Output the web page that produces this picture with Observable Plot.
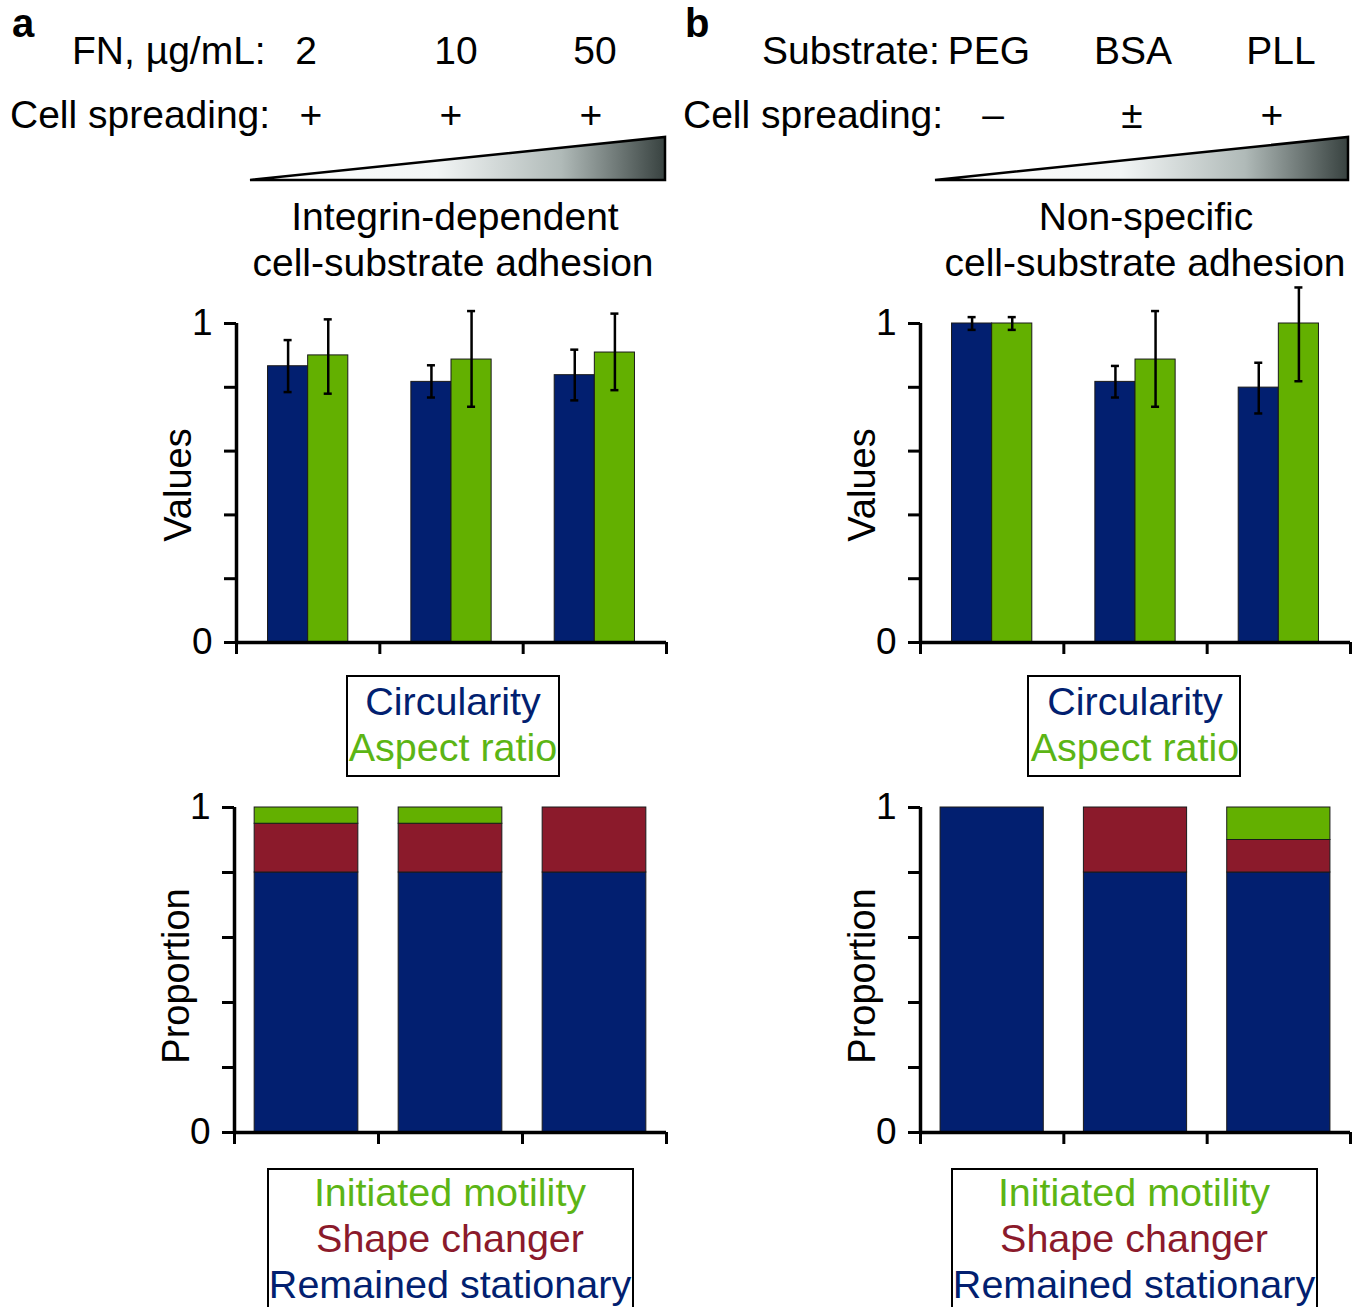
<!DOCTYPE html>
<html><head><meta charset="utf-8">
<script src="https://cdn.jsdelivr.net/npm/d3@7"></script>
<script src="https://cdn.jsdelivr.net/npm/@observablehq/plot@0.6"></script>
<style>
body{margin:0;background:#fff;}
#root{position:relative;width:1361px;height:1307px;overflow:hidden;font-family:"Liberation Sans",Arial,sans-serif;}
#root > svg, #root > figure{position:absolute;margin:0;}
</style></head><body><div id="root"></div>
<script>
// ---- data ----
const catsA = ["2", "10", "50"];
const spreadA = ["+", "+", "+"];
const catsB = ["PEG", "BSA", "PLL"];
const spreadB = ["–", "±", "+"];
const circularityA = [0.866, 0.817, 0.838];
const circularityUpA = [0.082, 0.052, 0.08];
const circularityDownA = [0.081, 0.049, 0.079];
const aspectA = [0.90, 0.887, 0.909];
const aspectUpA = [0.113, 0.152, 0.122];
const aspectDownA = [0.12, 0.148, 0.118];
const circularityB = [1.0, 0.817, 0.799];
const circularityUpB = [0.02, 0.05, 0.078];
const circularityDownB = [0.02, 0.049, 0.081];
const aspectB = [1.0, 0.887, 1.0];
const aspectUpB = [0.02, 0.152, 0.113];
const aspectDownB = [0.02, 0.148, 0.181];
const stationaryA = [0.8, 0.8, 0.8];
const shapeA = [0.15, 0.15, 0.2];
const motileA = [0.05, 0.05, 0];
const stationaryB = [1.0, 0.8, 0.8];
const shapeB = [0, 0.2, 0.1];
const motileB = [0, 0, 0.1];
const yTicks = [0, 0.2, 0.4, 0.6, 0.8, 1];
const valueSeries = ["Circularity", "Aspect ratio"];
const propSeries = ["Initiated motility", "Shape changer", "Remained stationary"];

const NAVY = "#021f70", GREEN = "#63b000", RED = "#8b1a2b";
const FONT = "'Liberation Sans', Arial, sans-serif";
const root = document.getElementById("root");

function place(el, left, top) {
  el.style.position = "absolute";
  el.style.left = left + "px";
  el.style.top = top + "px";
  root.appendChild(el);
}

function valuesPlot(cats, circ, circUp, circDown, asp, aspUp, aspDown, ml, mr) {
  const rows = [];
  cats.forEach((c, i) => {
    rows.push({i, series: valueSeries[0], v: circ[i], up: circUp[i], down: circDown[i], side: -1});
    rows.push({i, series: valueSeries[1], v: asp[i], up: aspUp[i], down: aspDown[i], side: 1});
  });
  const bw = 0.28;
  const x1 = d => d.side < 0 ? d.i + 0.5 - bw : d.i + 0.5;
  const x2 = d => d.side < 0 ? d.i + 0.5 : d.i + 0.5 + bw;
  const cx = d => d.i + 0.5 + d.side * bw / 2;
  const cap = 0.028;
  return Plot.plot({
    width: 681, height: 409, marginLeft: ml, marginRight: mr, marginTop: 60, marginBottom: 30,
    style: {background: "transparent", fontFamily: FONT, overflow: "visible", color: "#000"},
    x: {domain: [0, 3]},
    y: {domain: [0, 1]},
    color: {domain: valueSeries, range: [NAVY, GREEN]},
    marks: [
      Plot.rectY(rows, {x1, x2, y1: 0, y2: "v", fill: "series", stroke: "#1a1a1a", strokeWidth: 1}),
      Plot.ruleX(rows, {x: cx, y1: d => d.v - d.down, y2: d => d.v + d.up, strokeWidth: 2.5}),
      Plot.ruleY(rows, {y: d => d.v + d.up, x1: d => cx(d) - cap, x2: d => cx(d) + cap, strokeWidth: 2.5}),
      Plot.ruleY(rows, {y: d => d.v - d.down, x1: d => cx(d) - cap, x2: d => cx(d) + cap, strokeWidth: 2.5}),
      Plot.axisY({ticks: yTicks, tickSize: 12, tickPadding: 12, tickFormat: d => (d === 0 || d === 1) ? String(d) : "", fontSize: 37, strokeWidth: 3, label: null}),
      Plot.axisX({ticks: [0, 1, 2, 3], tickSize: 12, tickFormat: () => "", strokeWidth: 3, label: null}),
      Plot.ruleX([0], {y1: 0, y2: 1, strokeWidth: 3.5}),
      Plot.ruleY([0], {strokeWidth: 3.5}),
      Plot.text(["Values"], {text: d => d, frameAnchor: "left", textAnchor: "middle", dx: -58, dy: 2, rotate: -90, fontSize: 38})
    ]
  });
}

function proportionPlot(stat, shape, mot, ml, mr) {
  const rows = [];
  stat.forEach((s, i) => {
    const parts = [[propSeries[2], s], [propSeries[1], shape[i]], [propSeries[0], mot[i]]];
    let acc = 0;
    for (const [k, v] of parts) {
      if (v > 0) rows.push({i, k, y1: acc, y2: acc + v});
      acc += v;
    }
  });
  return Plot.plot({
    width: 681, height: 382, marginLeft: ml, marginRight: mr, marginTop: 27, marginBottom: 30,
    style: {background: "transparent", fontFamily: FONT, overflow: "visible", color: "#000"},
    x: {domain: [0, 3]},
    y: {domain: [0, 1]},
    color: {domain: propSeries, range: [GREEN, RED, NAVY]},
    marks: [
      Plot.rectY(rows, {x1: d => d.i + 0.14, x2: d => d.i + 0.86, y1: "y1", y2: "y2", fill: "k", stroke: "#1a1a1a", strokeWidth: 1}),
      Plot.axisY({ticks: yTicks, tickSize: 12, tickPadding: 12, tickFormat: d => (d === 0 || d === 1) ? String(d) : "", fontSize: 37, strokeWidth: 3, label: null}),
      Plot.axisX({ticks: [0, 1, 2, 3], tickSize: 12, tickFormat: () => "", strokeWidth: 3, label: null}),
      Plot.ruleX([0], {y1: 0, y2: 1, strokeWidth: 3.5}),
      Plot.ruleY([0], {strokeWidth: 3.5}),
      Plot.text(["Proportion"], {text: d => d, frameAnchor: "left", textAnchor: "middle", dx: -58, dy: 6, rotate: -90, fontSize: 38})
    ]
  });
}

place(valuesPlot(catsA, circularityA, circularityUpA, circularityDownA, aspectA, aspectUpA, aspectDownA, 236, 15), 0, 263);
place(valuesPlot(catsB, circularityB, circularityUpB, circularityDownB, aspectB, aspectUpB, aspectDownB, 240, 11), 680, 263);
place(proportionPlot(stationaryA, shapeA, motileA, 234, 15), 0, 780);
place(proportionPlot(stationaryB, shapeB, motileB, 240, 11), 680, 780);

// ---- overlay: headers, gradient wedges, legends ----
const NS = "http://www.w3.org/2000/svg";
const ov = document.createElementNS(NS, "svg");
ov.setAttribute("width", 1361); ov.setAttribute("height", 1307);
ov.style.fontFamily = FONT;
place(ov, 0, 0);
function el(tag, attrs, text) {
  const e = document.createElementNS(NS, tag);
  for (const k in attrs) e.setAttribute(k, attrs[k]);
  if (text != null) e.textContent = text;
  ov.appendChild(e);
  return e;
}
function txt(x, y, s, opts = {}) {
  return el("text", Object.assign({x, y, "font-size": 39, "text-anchor": "middle", fill: "#000"}, opts), s);
}
// gradient
const defs = el("defs", {});
const lg = document.createElementNS(NS, "linearGradient");
lg.setAttribute("id", "wedge"); lg.setAttribute("x1", "0"); lg.setAttribute("x2", "1");
[["0", "#ffffff"], ["0.45", "#f2f5f5"], ["0.75", "#b0bab8"], ["1", "#384240"]].forEach(([o, c]) => {
  const s = document.createElementNS(NS, "stop");
  s.setAttribute("offset", o); s.setAttribute("stop-color", c); lg.appendChild(s);
});
defs.appendChild(lg);

// panel a
txt(12, 37, "a", {"text-anchor": "start", "font-weight": "bold", "font-size": 40});
txt(72, 64, "FN, µg/mL:", {"text-anchor": "start"});
[306, 456, 595].forEach((x, i) => txt(x, 64, catsA[i]));
txt(10, 128, "Cell spreading:", {"text-anchor": "start"});
[311, 451, 591].forEach((x, i) => txt(x, 128, spreadA[i]));
el("polygon", {points: "250,180 665,137 665,180", fill: "url(#wedge)", stroke: "#000", "stroke-width": 2.5});
txt(455, 230, "Integrin-dependent");
txt(453, 276, "cell-substrate adhesion");

// panel b
txt(685, 37, "b", {"text-anchor": "start", "font-weight": "bold", "font-size": 40});
txt(762, 64, "Substrate:", {"text-anchor": "start"});
[989, 1133, 1281].forEach((x, i) => txt(x, 64, catsB[i]));
txt(683, 128, "Cell spreading:", {"text-anchor": "start"});
[993, 1132, 1272].forEach((x, i) => txt(x, 128, spreadB[i]));
el("polygon", {points: "935,180 1348,137 1348,180", fill: "url(#wedge)", stroke: "#000", "stroke-width": 2.5});
txt(1146, 230, "Non-specific");
txt(1145, 276, "cell-substrate adhesion");

// legends
const legendColorsTop = [NAVY, "#5cb515"];
const legendColorsBottom = ["#5cb515", RED, NAVY];
[[347, 453], [1028, 1135]].forEach(([x, c]) => {
  el("rect", {x, y: 676, width: 212, height: 100, fill: "none", stroke: "#000", "stroke-width": 2});
  valueSeries.forEach((s, i) => txt(c, 715 + i * 46, s, {fill: legendColorsTop[i], "font-size": 39.5}));
});
[[268, 450], [952, 1134]].forEach(([x, c]) => {
  el("rect", {x, y: 1169, width: 365, height: 160, fill: "none", stroke: "#000", "stroke-width": 2});
  propSeries.forEach((s, i) => txt(c, 1206 + i * 46, s, {fill: legendColorsBottom[i], "font-size": 39.5}));
});
</script></body></html>
